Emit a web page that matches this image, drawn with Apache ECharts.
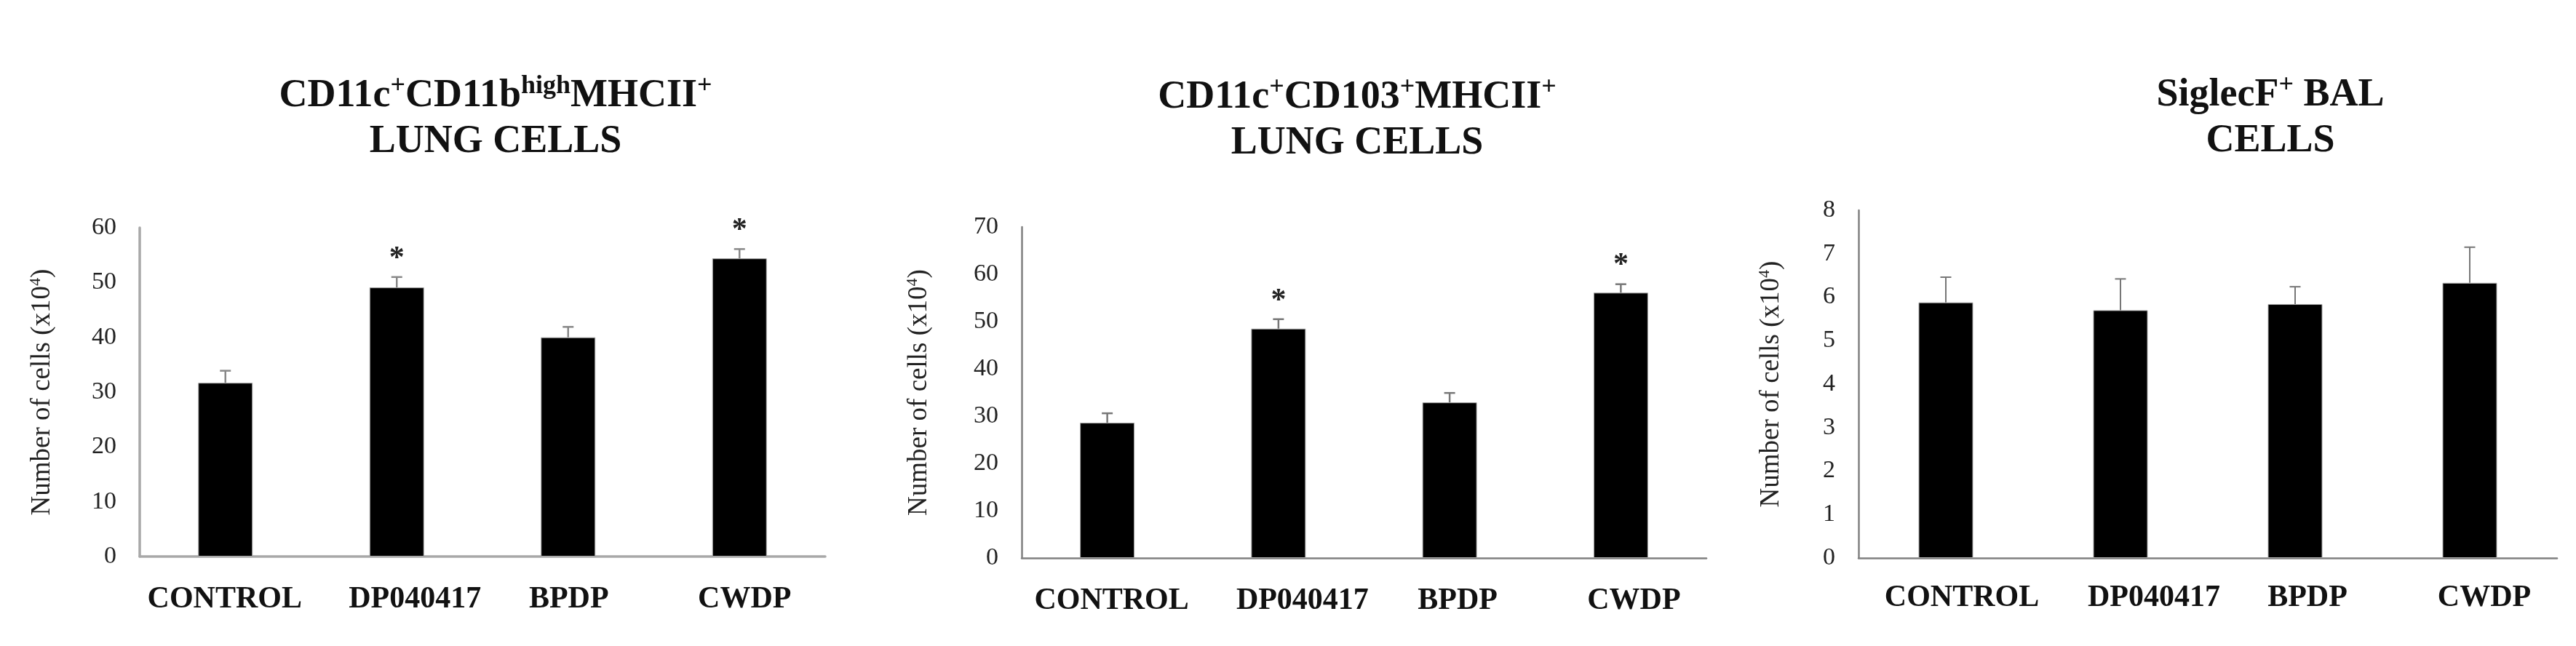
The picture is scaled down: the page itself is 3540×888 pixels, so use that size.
<!DOCTYPE html>
<html>
<head>
<meta charset="utf-8">
<script src="https://cdn.jsdelivr.net/npm/echarts@6/dist/echarts.min.js"></script>
<style>
html,body{margin:0;padding:0;background:#fff;}
#chart{width:3540px;height:888px;}
</style>
</head>
<body>
<div id="chart"></div>
<script>
// ---- data ----
const categories = ['CONTROL', 'DP040417', 'BPDP', 'CWDP'];

const p1Mean = [31.7, 49.1, 40.0, 54.4];
const p1Err  = [2.2, 1.9, 1.9, 1.7];
const p1Sig  = [0, 1, 0, 1];

const p2Mean = [28.6, 48.5, 32.9, 56.1];
const p2Err  = [2.0, 2.0, 2.0, 1.8];
const p2Sig  = [0, 1, 0, 1];

const p3Mean = [5.88, 5.70, 5.84, 6.33];
const p3Err  = [0.58, 0.72, 0.40, 0.82];
const p3Sig  = [0, 0, 0, 0];

const p1Ticks = { max: 60, interval: 10 };
const p2Ticks = { max: 70, interval: 10 };
const p3Ticks = { max: 8, interval: 1 };

// ---- styling / layout ----
const FONT = "'Liberation Serif', 'Times New Roman', serif";

const panels = [
  { mean: p1Mean, err: p1Err, sig: p1Sig, ticks: p1Ticks,
    grid: { left: 192, top: 313, width: 942, height: 452 },
    axisColor: '#a8a8a8', axisWidth: 3.5, errColor: '#888', errWidth: 2.5,
    nameGap: 114, labelMargin: 38, shift: [-1, 25, 1, 7] },
  { mean: p2Mean, err: p2Err, sig: p2Sig, ticks: p2Ticks,
    grid: { left: 1404, top: 312, width: 941, height: 455 },
    axisColor: '#808080', axisWidth: 2.5, errColor: '#777', errWidth: 2.5,
    nameGap: 121, labelMargin: 38, shift: [6, 33, 11, 18] },
  { mean: p3Mean, err: p3Err, sig: p3Sig, ticks: p3Ticks,
    grid: { left: 2554, top: 289, width: 960, height: 478 },
    axisColor: '#808080', axisWidth: 2.5, errColor: '#777', errWidth: 2,
    nameGap: 100, labelMargin: 34, shift: [22, 46, 17, 20] }
];

const titleRich = {
  b: { fontFamily: FONT, fontWeight: 'bold', fontSize: 54, lineHeight: 63, color: '#111' },
  sup: { fontFamily: FONT, fontWeight: 'bold', fontSize: 36, lineHeight: 48, verticalAlign: 'top', color: '#111' }
};

const titles = [
  { left: 676, top: 96, text: '{b|CD11c}{sup|+}{b|CD11b}{sup|high}{b|MHCII}{sup|+}\n{b|LUNG CELLS}' },
  { left: 1860, top: 98, text: '{b|CD11c}{sup|+}{b|CD103}{sup|+}{b|MHCII}{sup|+}\n{b|LUNG CELLS}' },
  { left: 3115, top: 95, text: '{b|SiglecF}{sup|+}{b| BAL}\n{b|CELLS}' }
].map(t => ({
  left: t.left, top: t.top, textAlign: 'center',
  text: t.text,
  textStyle: { rich: titleRich, fontFamily: FONT, align: 'center' }
}));

function labelRich(shift) {
  const r = {};
  shift.forEach((dx, i) => {
    r['s' + i] = {
      fontFamily: FONT, fontWeight: 'bold', fontSize: 42, color: '#111',
      padding: dx >= 0 ? [0, 0, 0, 2 * dx] : [0, -2 * dx, 0, 0]
    };
  });
  return r;
}

const grids = [], xAxes = [], yAxes = [], series = [];
panels.forEach((p, k) => {
  grids.push(p.grid);
  xAxes.push({
    type: 'category', gridIndex: k, data: categories,
    axisLine: { show: true, lineStyle: { color: p.axisColor, width: p.axisWidth } },
    axisTick: { show: false },
    axisLabel: {
      margin: p.labelMargin, interval: 0,
      formatter: (v, i) => '{s' + i + '|' + v + '}',
      rich: labelRich(p.shift)
    },
    splitLine: { show: false }
  });
  yAxes.push({
    type: 'value', gridIndex: k, min: 0, max: p.ticks.max, interval: p.ticks.interval,
    axisLine: { show: true, lineStyle: { color: p.axisColor, width: p.axisWidth } },
    axisTick: { show: false },
    splitLine: { show: false },
    axisLabel: { fontFamily: FONT, fontSize: 34, color: '#222', margin: 32 },
    name: '{a|Number of cells (x10}{s|4}{a|)}',
    nameLocation: 'middle', nameRotate: 90, nameGap: p.nameGap,
    nameTextStyle: {
      rich: {
        a: { fontFamily: FONT, fontSize: 37, lineHeight: 40, color: '#222' },
        s: { fontFamily: FONT, fontSize: 22, lineHeight: 26, verticalAlign: 'top', color: '#222' }
      }
    }
  });
  series.push({
    type: 'bar', xAxisIndex: k, yAxisIndex: k, data: p.mean,
    barWidth: 75,
    itemStyle: { color: '#000', borderColor: '#aaa', borderWidth: 1 },
    silent: true, z: 2
  });
  series.push({
    type: 'custom', xAxisIndex: k, yAxisIndex: k, z: 3, silent: true,
    data: p.mean.map((m, i) => [i, m, m + p.err[i], p.sig[i]]),
    renderItem: (params, api) => {
      const base = api.coord([api.value(0), api.value(1)]);
      const top = api.coord([api.value(0), api.value(2)]);
      const cap = 7.5;
      const st = { stroke: p.errColor, lineWidth: p.errWidth };
      const children = [
        { type: 'line', shape: { x1: base[0], y1: base[1], x2: base[0], y2: top[1] }, style: st },
        { type: 'line', shape: { x1: base[0] - cap, y1: top[1], x2: base[0] + cap, y2: top[1] }, style: st }
      ];
      if (api.value(3)) {
        children.push({
          type: 'text', x: base[0], y: top[1] - 25,
          style: { text: '*', fontFamily: FONT, fontWeight: 'bold', fontSize: 42,
                   fill: '#222', align: 'center', verticalAlign: 'middle' }
        });
      }
      return { type: 'group', children };
    }
  });
});

const chart = echarts.init(document.getElementById('chart'), null, { renderer: 'canvas' });
chart.setOption({
  backgroundColor: '#fff',
  animation: false,
  title: titles,
  grid: grids,
  xAxis: xAxes,
  yAxis: yAxes,
  series: series
});
</script>
</body>
</html>
